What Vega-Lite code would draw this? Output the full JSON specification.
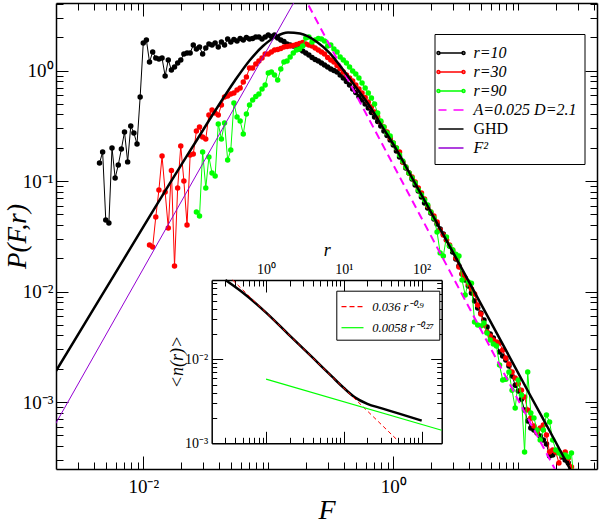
{
  "$schema": "https://vega.github.io/schema/vega-lite/v6.json",
  "width": 541,
  "height": 466,
  "autosize": {"type": "none"},
  "padding": {"left": 56, "top": 3, "right": 3, "bottom": 57},
  "background": "white",
  "config": {
    "font": "Liberation Serif",
    "view": {"stroke": null},
    "axis": {
      "grid": false,
      "domainColor": "black",
      "domainWidth": 1.5,
      "tickColor": "black",
      "tickWidth": 1,
      "labelColor": "black",
      "titleColor": "black",
      "labelFont": "Liberation Serif",
      "titleFont": "Liberation Serif",
      "titleFontWeight": "normal",
      "labelFlush": false,
      "labelOverlap": false
    },
    "legend": {
      "labelFont": "Liberation Serif",
      "labelColor": "black",
      "strokeColor": "black",
      "fillColor": "white",
      "symbolOpacity": 1
    }
  },
  "datasets": {
    "main": [
      {"s": "r=10", "F": 0.004467, "P": 0.1455},
      {"s": "r=10", "F": 0.004732, "P": 0.183},
      {"s": "r=10", "F": 0.005012, "P": 0.0444},
      {"s": "r=10", "F": 0.005309, "P": 0.0417},
      {"s": "r=10", "F": 0.005623, "P": 0.199},
      {"s": "r=10", "F": 0.005957, "P": 0.1064},
      {"s": "r=10", "F": 0.00631, "P": 0.1396},
      {"s": "r=10", "F": 0.006683, "P": 0.195},
      {"s": "r=10", "F": 0.007079, "P": 0.278},
      {"s": "r=10", "F": 0.007499, "P": 0.149},
      {"s": "r=10", "F": 0.007943, "P": 0.3145},
      {"s": "r=10", "F": 0.008414, "P": 0.272},
      {"s": "r=10", "F": 0.008913, "P": 0.216},
      {"s": "r=10", "F": 0.009441, "P": 0.576},
      {"s": "r=10", "F": 0.01, "P": 1.774},
      {"s": "r=10", "F": 0.01059, "P": 1.888},
      {"s": "r=10", "F": 0.01122, "P": 1.194},
      {"s": "r=10", "F": 0.01189, "P": 1.47},
      {"s": "r=10", "F": 0.01259, "P": 1.297},
      {"s": "r=10", "F": 0.01334, "P": 1.271},
      {"s": "r=10", "F": 0.01413, "P": 1.297},
      {"s": "r=10", "F": 0.01496, "P": 0.892},
      {"s": "r=10", "F": 0.01585, "P": 1.245},
      {"s": "r=10", "F": 0.01679, "P": 1.01},
      {"s": "r=10", "F": 0.01778, "P": 1.076},
      {"s": "r=10", "F": 0.01884, "P": 1.169},
      {"s": "r=10", "F": 0.01995, "P": 1.245},
      {"s": "r=10", "F": 0.02113, "P": 1.41},
      {"s": "r=10", "F": 0.02239, "P": 1.44},
      {"s": "r=10", "F": 0.02371, "P": 1.44},
      {"s": "r=10", "F": 0.02512, "P": 1.701},
      {"s": "r=10", "F": 0.02661, "P": 1.565},
      {"s": "r=10", "F": 0.02818, "P": 1.632},
      {"s": "r=10", "F": 0.02985, "P": 1.41},
      {"s": "r=10", "F": 0.03162, "P": 1.598},
      {"s": "r=10", "F": 0.0335, "P": 1.737},
      {"s": "r=10", "F": 0.03548, "P": 1.701},
      {"s": "r=10", "F": 0.03758, "P": 1.774},
      {"s": "r=10", "F": 0.03981, "P": 1.632},
      {"s": "r=10", "F": 0.04217, "P": 1.811},
      {"s": "r=10", "F": 0.04467, "P": 1.701},
      {"s": "r=10", "F": 0.04732, "P": 1.928},
      {"s": "r=10", "F": 0.05012, "P": 1.811},
      {"s": "r=10", "F": 0.05309, "P": 1.908},
      {"s": "r=10", "F": 0.05623, "P": 1.849},
      {"s": "r=10", "F": 0.05957, "P": 1.948},
      {"s": "r=10", "F": 0.0631, "P": 1.888},
      {"s": "r=10", "F": 0.06683, "P": 1.989},
      {"s": "r=10", "F": 0.07079, "P": 1.928},
      {"s": "r=10", "F": 0.07499, "P": 1.948},
      {"s": "r=10", "F": 0.07943, "P": 2.01},
      {"s": "r=10", "F": 0.08414, "P": 2.01},
      {"s": "r=10", "F": 0.08913, "P": 1.928},
      {"s": "r=10", "F": 0.09441, "P": 2.01},
      {"s": "r=10", "F": 0.1, "P": 2.096},
      {"s": "r=10", "F": 0.1059, "P": 2.031},
      {"s": "r=10", "F": 0.1122, "P": 2.096},
      {"s": "r=10", "F": 0.1189, "P": 1.968},
      {"s": "r=10", "F": 0.1259, "P": 1.888},
      {"s": "r=10", "F": 0.1334, "P": 1.83},
      {"s": "r=10", "F": 0.1413, "P": 1.737},
      {"s": "r=10", "F": 0.1496, "P": 1.701},
      {"s": "r=10", "F": 0.1585, "P": 1.666},
      {"s": "r=10", "F": 0.1679, "P": 1.632},
      {"s": "r=10", "F": 0.1778, "P": 1.565},
      {"s": "r=10", "F": 0.1884, "P": 1.501},
      {"s": "r=10", "F": 0.1995, "P": 1.44},
      {"s": "r=10", "F": 0.2113, "P": 1.381},
      {"s": "r=10", "F": 0.2239, "P": 1.311},
      {"s": "r=10", "F": 0.2371, "P": 1.257},
      {"s": "r=10", "F": 0.2512, "P": 1.219},
      {"s": "r=10", "F": 0.2661, "P": 1.169},
      {"s": "r=10", "F": 0.2818, "P": 1.121},
      {"s": "r=10", "F": 0.2985, "P": 1.076},
      {"s": "r=10", "F": 0.3162, "P": 1.032},
      {"s": "r=10", "F": 0.335, "P": 1.0},
      {"s": "r=10", "F": 0.3548, "P": 0.969},
      {"s": "r=10", "F": 0.3758, "P": 0.911},
      {"s": "r=10", "F": 0.3981, "P": 0.855},
      {"s": "r=10", "F": 0.4217, "P": 0.795},
      {"s": "r=10", "F": 0.4467, "P": 0.739},
      {"s": "r=10", "F": 0.4732, "P": 0.68},
      {"s": "r=10", "F": 0.5012, "P": 0.632},
      {"s": "r=10", "F": 0.5309, "P": 0.5816},
      {"s": "r=10", "F": 0.5623, "P": 0.541},
      {"s": "r=10", "F": 0.5957, "P": 0.4975},
      {"s": "r=10", "F": 0.631, "P": 0.4576},
      {"s": "r=10", "F": 0.6683, "P": 0.4168},
      {"s": "r=10", "F": 0.7079, "P": 0.3796},
      {"s": "r=10", "F": 0.7499, "P": 0.3455},
      {"s": "r=10", "F": 0.7943, "P": 0.3145},
      {"s": "r=10", "F": 0.8414, "P": 0.2835},
      {"s": "r=10", "F": 0.8913, "P": 0.258},
      {"s": "r=10", "F": 0.9441, "P": 0.235},
      {"s": "r=10", "F": 1.0, "P": 0.2117},
      {"s": "r=10", "F": 1.059, "P": 0.1868},
      {"s": "r=10", "F": 1.122, "P": 0.1649},
      {"s": "r=10", "F": 1.189, "P": 0.1486},
      {"s": "r=10", "F": 1.259, "P": 0.1311},
      {"s": "r=10", "F": 1.334, "P": 0.1181},
      {"s": "r=10", "F": 1.413, "P": 0.1042},
      {"s": "r=10", "F": 1.496, "P": 0.092},
      {"s": "r=10", "F": 1.585, "P": 0.0812},
      {"s": "r=10", "F": 1.679, "P": 0.0716},
      {"s": "r=10", "F": 1.778, "P": 0.0632},
      {"s": "r=10", "F": 1.884, "P": 0.057},
      {"s": "r=10", "F": 1.995, "P": 0.0513},
      {"s": "r=10", "F": 2.113, "P": 0.0453},
      {"s": "r=10", "F": 2.239, "P": 0.0408},
      {"s": "r=10", "F": 2.371, "P": 0.0368},
      {"s": "r=10", "F": 2.512, "P": 0.0331},
      {"s": "r=10", "F": 2.661, "P": 0.0292},
      {"s": "r=10", "F": 2.818, "P": 0.0258},
      {"s": "r=10", "F": 2.985, "P": 0.0228},
      {"s": "r=10", "F": 3.162, "P": 0.0197},
      {"s": "r=10", "F": 3.35, "P": 0.017},
      {"s": "r=10", "F": 3.548, "P": 0.0144},
      {"s": "r=10", "F": 3.758, "P": 0.0127},
      {"s": "r=10", "F": 3.981, "P": 0.0112},
      {"s": "r=10", "F": 4.217, "P": 0.0097},
      {"s": "r=10", "F": 4.467, "P": 0.0082},
      {"s": "r=10", "F": 4.732, "P": 0.00709},
      {"s": "r=10", "F": 5.012, "P": 0.00639},
      {"s": "r=10", "F": 5.309, "P": 0.00552},
      {"s": "r=10", "F": 5.623, "P": 0.00477},
      {"s": "r=10", "F": 5.957, "P": 0.00412},
      {"s": "r=10", "F": 6.31, "P": 0.0038},
      {"s": "r=10", "F": 6.683, "P": 0.00335},
      {"s": "r=10", "F": 7.079, "P": 0.00283},
      {"s": "r=10", "F": 7.499, "P": 0.00261},
      {"s": "r=10", "F": 7.943, "P": 0.0024},
      {"s": "r=10", "F": 8.414, "P": 0.00212},
      {"s": "r=10", "F": 8.913, "P": 0.00172},
      {"s": "r=10", "F": 9.441, "P": 0.00142},
      {"s": "r=10", "F": 10.0, "P": 0.00126},
      {"s": "r=10", "F": 10.59, "P": 0.00106},
      {"s": "r=10", "F": 11.22, "P": 0.000847},
      {"s": "r=10", "F": 11.89, "P": 0.000673},
      {"s": "r=10", "F": 12.59, "P": 0.000582},
      {"s": "r=10", "F": 13.34, "P": 0.000558},
      {"s": "r=10", "F": 14.13, "P": 0.000524},
      {"s": "r=10", "F": 14.96, "P": 0.000492},
      {"s": "r=10", "F": 15.85, "P": 0.000453},
      {"s": "r=10", "F": 16.79, "P": 0.000417},
      {"s": "r=10", "F": 17.78, "P": 0.000325},
      {"s": "r=10", "F": 18.84, "P": 0.000332},
      {"s": "r=10", "F": 19.95, "P": 0.000353},
      {"s": "r=10", "F": 21.13, "P": 0.000353},
      {"s": "r=10", "F": 22.39, "P": 0.000318},
      {"s": "r=10", "F": 23.71, "P": 0.000299},
      {"s": "r=10", "F": 25.12, "P": 0.000281},
      {"s": "r=10", "F": 26.61, "P": 0.00016},
      {"s": "r=30", "F": 0.01122, "P": 0.02635},
      {"s": "r=30", "F": 0.01189, "P": 0.02527},
      {"s": "r=30", "F": 0.01259, "P": 0.04724},
      {"s": "r=30", "F": 0.01334, "P": 0.0829},
      {"s": "r=30", "F": 0.01413, "P": 0.1684},
      {"s": "r=30", "F": 0.01496, "P": 0.0795},
      {"s": "r=30", "F": 0.01585, "P": 0.03755},
      {"s": "r=30", "F": 0.01679, "P": 0.1245},
      {"s": "r=30", "F": 0.01778, "P": 0.017},
      {"s": "r=30", "F": 0.01884, "P": 0.0865},
      {"s": "r=30", "F": 0.01995, "P": 0.2074},
      {"s": "r=30", "F": 0.02113, "P": 0.1},
      {"s": "r=30", "F": 0.02239, "P": 0.04},
      {"s": "r=30", "F": 0.02371, "P": 0.172},
      {"s": "r=30", "F": 0.02512, "P": 0.1755},
      {"s": "r=30", "F": 0.02661, "P": 0.2835},
      {"s": "r=30", "F": 0.02818, "P": 0.308},
      {"s": "r=30", "F": 0.02985, "P": 0.25},
      {"s": "r=30", "F": 0.03162, "P": 0.24},
      {"s": "r=30", "F": 0.0335, "P": 0.3957},
      {"s": "r=30", "F": 0.03548, "P": 0.439},
      {"s": "r=30", "F": 0.03758, "P": 0.412},
      {"s": "r=30", "F": 0.03981, "P": 0.3957},
      {"s": "r=30", "F": 0.04217, "P": 0.487},
      {"s": "r=30", "F": 0.04467, "P": 0.576},
      {"s": "r=30", "F": 0.04732, "P": 0.588},
      {"s": "r=30", "F": 0.05012, "P": 0.613},
      {"s": "r=30", "F": 0.05309, "P": 0.626},
      {"s": "r=30", "F": 0.05623, "P": 0.666},
      {"s": "r=30", "F": 0.05957, "P": 0.694},
      {"s": "r=30", "F": 0.0631, "P": 0.787},
      {"s": "r=30", "F": 0.06683, "P": 0.8735},
      {"s": "r=30", "F": 0.07079, "P": 1.053},
      {"s": "r=30", "F": 0.07499, "P": 1.053},
      {"s": "r=30", "F": 0.07943, "P": 1.145},
      {"s": "r=30", "F": 0.08414, "P": 1.219},
      {"s": "r=30", "F": 0.08913, "P": 1.297},
      {"s": "r=30", "F": 0.09441, "P": 1.41},
      {"s": "r=30", "F": 0.1, "P": 1.41},
      {"s": "r=30", "F": 0.1059, "P": 1.47},
      {"s": "r=30", "F": 0.1122, "P": 1.533},
      {"s": "r=30", "F": 0.1189, "P": 1.549},
      {"s": "r=30", "F": 0.1259, "P": 1.582},
      {"s": "r=30", "F": 0.1334, "P": 1.632},
      {"s": "r=30", "F": 0.1413, "P": 1.649},
      {"s": "r=30", "F": 0.1496, "P": 1.666},
      {"s": "r=30", "F": 0.1585, "P": 1.684},
      {"s": "r=30", "F": 0.1679, "P": 1.719},
      {"s": "r=30", "F": 0.1778, "P": 1.755},
      {"s": "r=30", "F": 0.1884, "P": 1.792},
      {"s": "r=30", "F": 0.1995, "P": 1.737},
      {"s": "r=30", "F": 0.2113, "P": 1.701},
      {"s": "r=30", "F": 0.2239, "P": 1.666},
      {"s": "r=30", "F": 0.2371, "P": 1.598},
      {"s": "r=30", "F": 0.2512, "P": 1.533},
      {"s": "r=30", "F": 0.2661, "P": 1.47},
      {"s": "r=30", "F": 0.2818, "P": 1.41},
      {"s": "r=30", "F": 0.2985, "P": 1.311},
      {"s": "r=30", "F": 0.3162, "P": 1.245},
      {"s": "r=30", "F": 0.335, "P": 1.194},
      {"s": "r=30", "F": 0.3548, "P": 1.11},
      {"s": "r=30", "F": 0.3758, "P": 1.042},
      {"s": "r=30", "F": 0.3981, "P": 0.969},
      {"s": "r=30", "F": 0.4217, "P": 0.911},
      {"s": "r=30", "F": 0.4467, "P": 0.855},
      {"s": "r=30", "F": 0.4732, "P": 0.803},
      {"s": "r=30", "F": 0.5012, "P": 0.739},
      {"s": "r=30", "F": 0.5309, "P": 0.68},
      {"s": "r=30", "F": 0.5623, "P": 0.626},
      {"s": "r=30", "F": 0.5957, "P": 0.57},
      {"s": "r=30", "F": 0.631, "P": 0.5187},
      {"s": "r=30", "F": 0.6683, "P": 0.4673},
      {"s": "r=30", "F": 0.7079, "P": 0.421},
      {"s": "r=30", "F": 0.7499, "P": 0.3796},
      {"s": "r=30", "F": 0.7943, "P": 0.342},
      {"s": "r=30", "F": 0.8414, "P": 0.308},
      {"s": "r=30", "F": 0.8913, "P": 0.2776},
      {"s": "r=30", "F": 0.9441, "P": 0.245},
      {"s": "r=30", "F": 1.0, "P": 0.2208},
      {"s": "r=30", "F": 1.059, "P": 0.1989},
      {"s": "r=30", "F": 1.122, "P": 0.183},
      {"s": "r=30", "F": 1.189, "P": 0.1486},
      {"s": "r=30", "F": 1.259, "P": 0.1338},
      {"s": "r=30", "F": 1.334, "P": 0.1181},
      {"s": "r=30", "F": 1.413, "P": 0.1087},
      {"s": "r=30", "F": 1.496, "P": 0.0979},
      {"s": "r=30", "F": 1.585, "P": 0.0865},
      {"s": "r=30", "F": 1.679, "P": 0.0779},
      {"s": "r=30", "F": 1.778, "P": 0.0687},
      {"s": "r=30", "F": 1.884, "P": 0.0594},
      {"s": "r=30", "F": 1.995, "P": 0.0524},
      {"s": "r=30", "F": 2.113, "P": 0.0482},
      {"s": "r=30", "F": 2.239, "P": 0.0426},
      {"s": "r=30", "F": 2.371, "P": 0.036},
      {"s": "r=30", "F": 2.512, "P": 0.0325},
      {"s": "r=30", "F": 2.661, "P": 0.0292},
      {"s": "r=30", "F": 2.818, "P": 0.02635},
      {"s": "r=30", "F": 2.985, "P": 0.0237},
      {"s": "r=30", "F": 3.162, "P": 0.0201},
      {"s": "r=30", "F": 3.35, "P": 0.01666},
      {"s": "r=30", "F": 3.548, "P": 0.0144},
      {"s": "r=30", "F": 3.758, "P": 0.01325},
      {"s": "r=30", "F": 3.981, "P": 0.0117},
      {"s": "r=30", "F": 4.217, "P": 0.01054},
      {"s": "r=30", "F": 4.467, "P": 0.0095},
      {"s": "r=30", "F": 4.732, "P": 0.00755},
      {"s": "r=30", "F": 5.012, "P": 0.00626},
      {"s": "r=30", "F": 5.309, "P": 0.00498},
      {"s": "r=30", "F": 5.623, "P": 0.0043},
      {"s": "r=30", "F": 5.957, "P": 0.00396},
      {"s": "r=30", "F": 6.31, "P": 0.00364},
      {"s": "r=30", "F": 6.683, "P": 0.00349},
      {"s": "r=30", "F": 7.079, "P": 0.00342},
      {"s": "r=30", "F": 7.499, "P": 0.00296},
      {"s": "r=30", "F": 7.943, "P": 0.0025},
      {"s": "r=30", "F": 8.414, "P": 0.00221},
      {"s": "r=30", "F": 8.913, "P": 0.00187},
      {"s": "r=30", "F": 9.441, "P": 0.00165},
      {"s": "r=30", "F": 10.0, "P": 0.00146},
      {"s": "r=30", "F": 10.59, "P": 0.00128},
      {"s": "r=30", "F": 11.22, "P": 0.00111},
      {"s": "r=30", "F": 11.89, "P": 0.000847},
      {"s": "r=30", "F": 12.59, "P": 0.000717},
      {"s": "r=30", "F": 13.34, "P": 0.000606},
      {"s": "r=30", "F": 14.13, "P": 0.000535},
      {"s": "r=30", "F": 14.96, "P": 0.000582},
      {"s": "r=30", "F": 15.85, "P": 0.000619},
      {"s": "r=30", "F": 16.79, "P": 0.000503},
      {"s": "r=30", "F": 17.78, "P": 0.000353},
      {"s": "r=30", "F": 18.84, "P": 0.000368},
      {"s": "r=30", "F": 19.95, "P": 0.000353},
      {"s": "r=30", "F": 21.13, "P": 0.000281},
      {"s": "r=30", "F": 22.39, "P": 0.000332},
      {"s": "r=30", "F": 23.71, "P": 0.000353},
      {"s": "r=30", "F": 25.12, "P": 0.000311},
      {"s": "r=30", "F": 26.61, "P": 0.000258},
      {"s": "r=30", "F": 28.18, "P": 0.00016},
      {"s": "r=90", "F": 0.02661, "P": 0.0524},
      {"s": "r=90", "F": 0.02818, "P": 0.0482},
      {"s": "r=90", "F": 0.02985, "P": 0.183},
      {"s": "r=90", "F": 0.03162, "P": 0.0865},
      {"s": "r=90", "F": 0.0335, "P": 0.1649},
      {"s": "r=90", "F": 0.03548, "P": 0.1181},
      {"s": "r=90", "F": 0.03758, "P": 0.111},
      {"s": "r=90", "F": 0.03981, "P": 0.328},
      {"s": "r=90", "F": 0.04217, "P": 0.24},
      {"s": "r=90", "F": 0.04467, "P": 0.335},
      {"s": "r=90", "F": 0.04732, "P": 0.1549},
      {"s": "r=90", "F": 0.05012, "P": 0.1908},
      {"s": "r=90", "F": 0.05309, "P": 0.508},
      {"s": "r=90", "F": 0.05623, "P": 0.3796},
      {"s": "r=90", "F": 0.05957, "P": 0.349},
      {"s": "r=90", "F": 0.0631, "P": 0.266},
      {"s": "r=90", "F": 0.06683, "P": 0.404},
      {"s": "r=90", "F": 0.07079, "P": 0.487},
      {"s": "r=90", "F": 0.07499, "P": 0.541},
      {"s": "r=90", "F": 0.07943, "P": 0.5816},
      {"s": "r=90", "F": 0.08414, "P": 0.613},
      {"s": "r=90", "F": 0.08913, "P": 0.68},
      {"s": "r=90", "F": 0.09441, "P": 0.739},
      {"s": "r=90", "F": 0.1, "P": 0.949},
      {"s": "r=90", "F": 0.1059, "P": 0.969},
      {"s": "r=90", "F": 0.1122, "P": 0.911},
      {"s": "r=90", "F": 0.1189, "P": 0.82},
      {"s": "r=90", "F": 0.1259, "P": 1.032},
      {"s": "r=90", "F": 0.1334, "P": 1.194},
      {"s": "r=90", "F": 0.1413, "P": 1.219},
      {"s": "r=90", "F": 0.1496, "P": 1.325},
      {"s": "r=90", "F": 0.1585, "P": 1.44},
      {"s": "r=90", "F": 0.1679, "P": 1.533},
      {"s": "r=90", "F": 0.1778, "P": 1.565},
      {"s": "r=90", "F": 0.1884, "P": 1.666},
      {"s": "r=90", "F": 0.1995, "P": 1.968},
      {"s": "r=90", "F": 0.2113, "P": 2.01},
      {"s": "r=90", "F": 0.2239, "P": 1.811},
      {"s": "r=90", "F": 0.2371, "P": 1.888},
      {"s": "r=90", "F": 0.2512, "P": 1.948},
      {"s": "r=90", "F": 0.2661, "P": 1.928},
      {"s": "r=90", "F": 0.2818, "P": 1.849},
      {"s": "r=90", "F": 0.2985, "P": 1.666},
      {"s": "r=90", "F": 0.3162, "P": 1.701},
      {"s": "r=90", "F": 0.335, "P": 1.565},
      {"s": "r=90", "F": 0.3548, "P": 1.47},
      {"s": "r=90", "F": 0.3758, "P": 1.325},
      {"s": "r=90", "F": 0.3981, "P": 1.245},
      {"s": "r=90", "F": 0.4217, "P": 1.169},
      {"s": "r=90", "F": 0.4467, "P": 1.076},
      {"s": "r=90", "F": 0.4732, "P": 0.99},
      {"s": "r=90", "F": 0.5012, "P": 0.93},
      {"s": "r=90", "F": 0.5309, "P": 0.855},
      {"s": "r=90", "F": 0.5623, "P": 0.771},
      {"s": "r=90", "F": 0.5957, "P": 0.694},
      {"s": "r=90", "F": 0.631, "P": 0.626},
      {"s": "r=90", "F": 0.6683, "P": 0.5638},
      {"s": "r=90", "F": 0.7079, "P": 0.4975},
      {"s": "r=90", "F": 0.7499, "P": 0.412},
      {"s": "r=90", "F": 0.7943, "P": 0.349},
      {"s": "r=90", "F": 0.8414, "P": 0.308},
      {"s": "r=90", "F": 0.8913, "P": 0.272},
      {"s": "r=90", "F": 0.9441, "P": 0.2554},
      {"s": "r=90", "F": 1.0, "P": 0.2208},
      {"s": "r=90", "F": 1.059, "P": 0.1989},
      {"s": "r=90", "F": 1.122, "P": 0.172},
      {"s": "r=90", "F": 1.189, "P": 0.1517},
      {"s": "r=90", "F": 1.259, "P": 0.1338},
      {"s": "r=90", "F": 1.334, "P": 0.1181},
      {"s": "r=90", "F": 1.413, "P": 0.1064},
      {"s": "r=90", "F": 1.496, "P": 0.0959},
      {"s": "r=90", "F": 1.585, "P": 0.0829},
      {"s": "r=90", "F": 1.679, "P": 0.0747},
      {"s": "r=90", "F": 1.778, "P": 0.0673},
      {"s": "r=90", "F": 1.884, "P": 0.0606},
      {"s": "r=90", "F": 1.995, "P": 0.0524},
      {"s": "r=90", "F": 2.113, "P": 0.0463},
      {"s": "r=90", "F": 2.239, "P": 0.0346},
      {"s": "r=90", "F": 2.371, "P": 0.0223},
      {"s": "r=90", "F": 2.512, "P": 0.021},
      {"s": "r=90", "F": 2.661, "P": 0.0311},
      {"s": "r=90", "F": 2.818, "P": 0.0258},
      {"s": "r=90", "F": 2.985, "P": 0.0237},
      {"s": "r=90", "F": 3.162, "P": 0.0218},
      {"s": "r=90", "F": 3.35, "P": 0.021},
      {"s": "r=90", "F": 3.548, "P": 0.0127},
      {"s": "r=90", "F": 3.758, "P": 0.0093},
      {"s": "r=90", "F": 3.981, "P": 0.0122},
      {"s": "r=90", "F": 4.217, "P": 0.0119},
      {"s": "r=90", "F": 4.467, "P": 0.0053},
      {"s": "r=90", "F": 4.732, "P": 0.00498},
      {"s": "r=90", "F": 5.012, "P": 0.00487},
      {"s": "r=90", "F": 5.309, "P": 0.00519},
      {"s": "r=90", "F": 5.623, "P": 0.00421},
      {"s": "r=90", "F": 5.957, "P": 0.00364},
      {"s": "r=90", "F": 6.31, "P": 0.00335},
      {"s": "r=90", "F": 6.683, "P": 0.00321},
      {"s": "r=90", "F": 7.079, "P": 0.00216},
      {"s": "r=90", "F": 7.499, "P": 0.00158},
      {"s": "r=90", "F": 7.943, "P": 0.00161},
      {"s": "r=90", "F": 8.414, "P": 0.00187},
      {"s": "r=90", "F": 8.913, "P": 0.00128},
      {"s": "r=90", "F": 9.441, "P": 0.000882},
      {"s": "r=90", "F": 10.0, "P": 0.00158},
      {"s": "r=90", "F": 10.59, "P": 0.001157},
      {"s": "r=90", "F": 11.22, "P": 0.000353},
      {"s": "r=90", "F": 11.89, "P": 0.00187},
      {"s": "r=90", "F": 12.59, "P": 0.000795},
      {"s": "r=90", "F": 13.34, "P": 0.000717},
      {"s": "r=90", "F": 14.13, "P": 0.000558},
      {"s": "r=90", "F": 14.96, "P": 0.000453},
      {"s": "r=90", "F": 15.85, "P": 0.000558},
      {"s": "r=90", "F": 16.79, "P": 0.000763},
      {"s": "r=90", "F": 17.78, "P": 0.000659},
      {"s": "r=90", "F": 18.84, "P": 0.000453},
      {"s": "r=90", "F": 19.95, "P": 0.000368},
      {"s": "r=90", "F": 21.13, "P": 0.000346},
      {"s": "r=90", "F": 22.39, "P": 0.000332},
      {"s": "r=90", "F": 23.71, "P": 0.000332},
      {"s": "r=90", "F": 25.12, "P": 0.000318},
      {"s": "r=90", "F": 26.61, "P": 0.000346},
      {"s": "r=90", "F": 28.18, "P": 0.00016},
      {"s": "A=0.025 D=2.1", "F": 0.15, "P": 7.94},
      {"s": "A=0.025 D=2.1", "F": 30, "P": 0.0001},
      {"s": "GHD", "F": 0.001793, "P": 0.001552},
      {"s": "GHD", "F": 0.002002, "P": 0.001908},
      {"s": "GHD", "F": 0.004504, "P": 0.008662},
      {"s": "GHD", "F": 0.00941, "P": 0.03425},
      {"s": "GHD", "F": 0.01635, "P": 0.0959},
      {"s": "GHD", "F": 0.02592, "P": 0.2208},
      {"s": "GHD", "F": 0.03747, "P": 0.43},
      {"s": "GHD", "F": 0.05414, "P": 0.812},
      {"s": "GHD", "F": 0.07139, "P": 1.245},
      {"s": "GHD", "F": 0.09071, "P": 1.666},
      {"s": "GHD", "F": 0.1152, "P": 2.031},
      {"s": "GHD", "F": 0.1438, "P": 2.208},
      {"s": "GHD", "F": 0.1793, "P": 2.162},
      {"s": "GHD", "F": 0.2438, "P": 1.823},
      {"s": "GHD", "F": 0.3116, "P": 1.431},
      {"s": "GHD", "F": 0.3981, "P": 1.01},
      {"s": "GHD", "F": 0.5095, "P": 0.69},
      {"s": "GHD", "F": 0.651, "P": 0.4703},
      {"s": "GHD", "F": 0.8318, "P": 0.2998},
      {"s": "GHD", "F": 1.065, "P": 0.1908},
      {"s": "GHD", "F": 1.445, "P": 0.1021},
      {"s": "GHD", "F": 2.364, "P": 0.03716},
      {"s": "GHD", "F": 3.866, "P": 0.01338},
      {"s": "GHD", "F": 6.719, "P": 0.00421},
      {"s": "GHD", "F": 12.41, "P": 0.001157},
      {"s": "GHD", "F": 20.29, "P": 0.000417},
      {"s": "GHD", "F": 25.92, "P": 0.0002476},
      {"s": "GHD", "F": 31.17, "P": 0.0001667},
      {"s": "F²", "F": 0.0019, "P": 0.00058},
      {"s": "F²", "F": 0.2, "P": 6.43}
    ],
    "inset": [
      {"s": "black", "r": 0.3, "n": 0.088},
      {"s": "black", "r": 0.5, "n": 0.0625},
      {"s": "black", "r": 1, "n": 0.036},
      {"s": "black", "r": 2, "n": 0.0193},
      {"s": "black", "r": 4, "n": 0.0104},
      {"s": "black", "r": 7, "n": 0.00625},
      {"s": "black", "r": 10, "n": 0.00455},
      {"s": "black", "r": 14, "n": 0.0035},
      {"s": "black", "r": 20, "n": 0.00295},
      {"s": "black", "r": 30, "n": 0.00262},
      {"s": "black", "r": 50, "n": 0.00227},
      {"s": "black", "r": 100, "n": 0.00186},
      {"s": "0.036 r⁻⁰·⁹", "r": 0.371, "n": 0.088},
      {"s": "0.036 r⁻⁰·⁹", "r": 50, "n": 0.001065},
      {"s": "0.0058 r⁻⁰·²⁷", "r": 1, "n": 0.0058},
      {"s": "0.0058 r⁻⁰·²⁷", "r": 180.7, "n": 0.00143}
    ]
  },
  "layer": [
    {
      "layer": [
        {
          "data": {"name": "main"},
          "transform": [{"filter": "datum.s == 'r=10'"}],
          "mark": {"type": "line", "color": "black", "strokeWidth": 1, "clip": true, "point": {"filled": true, "size": 30, "color": "black"}},
          "encoding": {
            "x": {"field": "F", "type": "quantitative", "scale": {"type": "log", "domain": [0.002004, 42.6], "nice": false},
              "axis": {"orient": "bottom", "values": [0.003,0.004,0.005,0.006,0.007,0.008,0.009,0.01,0.02,0.03,0.04,0.05,0.06,0.07,0.08,0.09,0.1,0.2,0.3,0.4,0.5,0.6,0.7,0.8,0.9,1,2,3,4,5,6,7,8,9,10,20,30,40],
                "labelExpr": "datum.value == 0.01 ? '10⁻²' : datum.value == 1 ? '10⁰' : ''",
                "tickSize": {"condition": {"test": "datum.value == 0.01 || datum.value == 1", "value": -13}, "value": -7},
                "labelPadding": 21, "labelFontSize": 19,
                "title": "F", "titleFontSize": 28, "titleFontStyle": "italic", "titleX": 270.5, "titleY": 41, "titleBaseline": "middle", "titleAlign": "center"}},
            "y": {"field": "P", "type": "quantitative", "scale": {"type": "log", "domain": [0.0002477, 4.083], "nice": false},
              "axis": {"orient": "left", "values": [0.0003,0.0004,0.0005,0.0006,0.0007,0.0008,0.0009,0.001,0.002,0.003,0.004,0.005,0.006,0.007,0.008,0.009,0.01,0.02,0.03,0.04,0.05,0.06,0.07,0.08,0.09,0.1,0.2,0.3,0.4,0.5,0.6,0.7,0.8,0.9,1,2,3,4],
                "labelExpr": "datum.value == 1 ? '10⁰' : datum.value == 0.1 ? '10⁻¹' : datum.value == 0.01 ? '10⁻²' : datum.value == 0.001 ? '10⁻³' : ''",
                "tickSize": {"condition": {"test": "datum.value == 1 || datum.value == 0.1 || datum.value == 0.01 || datum.value == 0.001", "value": -12}, "value": -7},
                "labelPadding": 15, "labelFontSize": 19,
                "title": "P(F,r)", "titleFontSize": 27, "titleFontStyle": "italic", "titleX": -39, "titleY": 233, "titleBaseline": "middle", "titleAlign": "center", "titleAngle": -90}}
          }
        },
        {
          "data": {"name": "main"},
          "transform": [{"filter": "datum.s == 'r=30'"}],
          "mark": {"type": "line", "color": "#ff0000", "strokeWidth": 1, "clip": true, "point": {"filled": true, "size": 30, "color": "#ff0000"}},
          "encoding": {
            "x": {"field": "F", "type": "quantitative", "scale": {"type": "log", "domain": [0.002004, 42.6], "nice": false},
              "axis": {"orient": "top", "values": [0.003,0.004,0.005,0.006,0.007,0.008,0.009,0.01,0.02,0.03,0.04,0.05,0.06,0.07,0.08,0.09,0.1,0.2,0.3,0.4,0.5,0.6,0.7,0.8,0.9,1,2,3,4,5,6,7,8,9,10,20,30,40],
                "labels": false, "title": null,
                "tickSize": {"condition": {"test": "datum.value == 0.01 || datum.value == 1", "value": -13}, "value": -7}}},
            "y": {"field": "P", "type": "quantitative", "scale": {"type": "log", "domain": [0.0002477, 4.083], "nice": false},
              "axis": {"orient": "right", "values": [0.0003,0.0004,0.0005,0.0006,0.0007,0.0008,0.0009,0.001,0.002,0.003,0.004,0.005,0.006,0.007,0.008,0.009,0.01,0.02,0.03,0.04,0.05,0.06,0.07,0.08,0.09,0.1,0.2,0.3,0.4,0.5,0.6,0.7,0.8,0.9,1,2,3,4],
                "labels": false, "title": null,
                "tickSize": {"condition": {"test": "datum.value == 1 || datum.value == 0.1 || datum.value == 0.01 || datum.value == 0.001", "value": -12}, "value": -7}}}
          }
        },
        {
          "data": {"name": "main"},
          "transform": [{"filter": "datum.s == 'r=90'"}],
          "mark": {"type": "line", "color": "#00ff00", "strokeWidth": 1, "clip": true, "point": {"filled": true, "size": 30, "color": "#00ff00"}},
          "encoding": {
            "x": {"field": "F", "type": "quantitative", "scale": {"type": "log", "domain": [0.002004, 42.6], "nice": false}, "axis": null},
            "y": {"field": "P", "type": "quantitative", "scale": {"type": "log", "domain": [0.0002477, 4.083], "nice": false}, "axis": null}
          }
        },
        {
          "data": {"name": "main"},
          "transform": [{"filter": "datum.s == 'A=0.025 D=2.1'"}],
          "mark": {"type": "line", "color": "#ff00ff", "strokeWidth": 2, "strokeDash": [8, 5], "clip": true},
          "encoding": {
            "x": {"field": "F", "type": "quantitative", "scale": {"type": "log", "domain": [0.002004, 42.6], "nice": false}, "axis": null},
            "y": {"field": "P", "type": "quantitative", "scale": {"type": "log", "domain": [0.0002477, 4.083], "nice": false}, "axis": null}
          }
        },
        {
          "data": {"name": "main"},
          "transform": [{"filter": "datum.s == 'GHD'"}],
          "mark": {"type": "line", "color": "black", "strokeWidth": 2.5, "interpolate": "monotone", "clip": true},
          "encoding": {
            "x": {"field": "F", "type": "quantitative", "scale": {"type": "log", "domain": [0.002004, 42.6], "nice": false}, "axis": null},
            "y": {"field": "P", "type": "quantitative", "scale": {"type": "log", "domain": [0.0002477, 4.083], "nice": false}, "axis": null}
          }
        },
        {
          "data": {"name": "main"},
          "transform": [{"filter": "datum.s == 'F²'"}],
          "mark": {"type": "line", "color": "#9400d3", "strokeWidth": 1, "clip": true},
          "encoding": {
            "x": {"field": "F", "type": "quantitative", "scale": {"type": "log", "domain": [0.002004, 42.6], "nice": false}, "axis": null},
            "y": {"field": "P", "type": "quantitative", "scale": {"type": "log", "domain": [0.0002477, 4.083], "nice": false}, "axis": null}
          }
        },
        {
          "data": {"name": "main"},
          "transform": [{"filter": "false"}],
          "mark": {"type": "point", "filled": false, "strokeWidth": 1.5, "opacity": 1},
          "encoding": {
            "x": {"field": "F", "type": "quantitative", "scale": {"type": "log", "domain": [0.002004, 42.6], "nice": false}, "axis": null},
            "y": {"field": "P", "type": "quantitative", "scale": {"type": "log", "domain": [0.0002477, 4.083], "nice": false}, "axis": null},
            "color": {"field": "s", "type": "nominal",
              "scale": {"domain": ["r=10", "r=30", "r=90", "A=0.025 D=2.1", "GHD", "F²"], "range": ["black", "#ff0000", "#00ff00", "#ff00ff", "black", "#9400d3"]},
              "legend": {"title": null, "orient": "none", "legendX": 378.5, "legendY": 31, "padding": 8, "labelFontSize": 16, "labelFontStyle": {"expr": "datum.label == 'GHD' ? 'normal' : 'italic'"}, "labelOffset": 9, "symbolSize": 400, "rowPadding": 0, "symbolStrokeWidth": 1.5, "symbolOpacity": 1, "strokeColor": "black", "fillColor": "white"}},
            "shape": {"field": "s", "type": "nominal",
              "scale": {"domain": ["r=10", "r=30", "r=90", "A=0.025 D=2.1", "GHD", "F²"],
                "range": [
                  "M-1.5,0L1,0M-1.65,0a0.15,0.15 0 1,0 0.3,0a0.15,0.15 0 1,0 -0.3,0M0.85,0a0.15,0.15 0 1,0 0.3,0a0.15,0.15 0 1,0 -0.3,0",
                  "M-1.5,0L1,0M-1.65,0a0.15,0.15 0 1,0 0.3,0a0.15,0.15 0 1,0 -0.3,0M0.85,0a0.15,0.15 0 1,0 0.3,0a0.15,0.15 0 1,0 -0.3,0",
                  "M-1.5,0L1,0M-1.65,0a0.15,0.15 0 1,0 0.3,0a0.15,0.15 0 1,0 -0.3,0M0.85,0a0.15,0.15 0 1,0 0.3,0a0.15,0.15 0 1,0 -0.3,0",
                  "M-1.5,0L-0.7,0M0,0L1,0",
                  "M-1.5,0L1,0",
                  "M-1.5,0L1,0"]},
              "legend": {"title": null, "orient": "none", "legendX": 378.5, "legendY": 31, "padding": 8, "labelFontSize": 16, "labelFontStyle": {"expr": "datum.label == 'GHD' ? 'normal' : 'italic'"}, "labelOffset": 9, "symbolSize": 400, "rowPadding": 0, "symbolStrokeWidth": 1.5, "symbolOpacity": 1, "strokeColor": "black", "fillColor": "white"}}
          }
        }
      ],
      "resolve": {"scale": {"x": "shared", "y": "shared"}, "axis": {"x": "independent", "y": "independent"}}
    },
    {
      "layer": [
        {
          "data": {"name": "inset"},
          "transform": [{"filter": "datum.s == 'black'"}],
          "mark": {"type": "line", "color": "black", "strokeWidth": 2.5, "interpolate": "monotone"},
          "encoding": {
            "x": {"field": "r", "type": "quantitative", "scale": {"type": "log", "domain": [0.2, 180.7], "range": [155.7, 385.7], "nice": false},
              "axis": {"orient": "top", "offset": -277, "values": [0.3,0.4,0.5,0.6,0.7,0.8,0.9,1,2,3,4,5,6,7,8,9,10,20,30,40,50,60,70,80,90,100],
                "labelExpr": "datum.value == 1 ? '10⁰' : datum.value == 10 ? '10¹' : datum.value == 100 ? '10²' : ''",
                "tickSize": {"condition": {"test": "datum.value == 1 || datum.value == 10 || datum.value == 100", "value": -12}, "value": -6},
                "labelPadding": 16, "labelFontSize": 14,
                "title": "r", "titleFontSize": 18, "titleFontStyle": "italic", "titleX": 270.7, "titleY": -30, "titleBaseline": "middle", "titleAlign": "center"}},
            "y": {"field": "n", "type": "quantitative", "scale": {"type": "log", "domain": [0.001, 0.088], "range": [440.3, 277], "nice": false},
              "axis": {"orient": "left", "offset": -155.7, "values": [0.001,0.002,0.003,0.004,0.005,0.006,0.007,0.008,0.009,0.01,0.02,0.03,0.04,0.05,0.06,0.07,0.08],
                "labelExpr": "datum.value == 0.01 ? '10⁻²' : datum.value == 0.001 ? '10⁻³' : ''",
                "tickSize": {"condition": {"test": "datum.value == 0.01 || datum.value == 0.001", "value": -11}, "value": -5},
                "labelPadding": 15, "labelFontSize": 14,
                "title": "<n(r)>", "titleFontSize": 18, "titleFontStyle": "italic", "titleX": -34.7, "titleY": 358.6, "titleBaseline": "middle", "titleAlign": "center", "titleAngle": -90}}
          }
        },
        {
          "data": {"name": "inset"},
          "transform": [{"filter": "datum.s == '0.036 r⁻⁰·⁹'"}],
          "mark": {"type": "line", "color": "#ff0000", "strokeWidth": 1, "strokeDash": [4, 3]},
          "encoding": {
            "x": {"field": "r", "type": "quantitative", "scale": {"type": "log", "domain": [0.2, 180.7], "range": [155.7, 385.7], "nice": false},
              "axis": {"orient": "bottom", "offset": -25.7, "values": [0.3,0.4,0.5,0.6,0.7,0.8,0.9,1,2,3,4,5,6,7,8,9,10,20,30,40,50,60,70,80,90,100],
                "labels": false, "title": null,
                "tickSize": {"condition": {"test": "datum.value == 1 || datum.value == 10 || datum.value == 100", "value": -12}, "value": -6}}},
            "y": {"field": "n", "type": "quantitative", "scale": {"type": "log", "domain": [0.001, 0.088], "range": [440.3, 277], "nice": false},
              "axis": {"orient": "right", "offset": -155.3, "values": [0.001,0.002,0.003,0.004,0.005,0.006,0.007,0.008,0.009,0.01,0.02,0.03,0.04,0.05,0.06,0.07,0.08],
                "labels": false, "title": null,
                "tickSize": {"condition": {"test": "datum.value == 0.01 || datum.value == 0.001", "value": -11}, "value": -5}}}
          }
        },
        {
          "data": {"name": "inset"},
          "transform": [{"filter": "datum.s == '0.0058 r⁻⁰·²⁷'"}],
          "mark": {"type": "line", "color": "#00ff00", "strokeWidth": 1.2},
          "encoding": {
            "x": {"field": "r", "type": "quantitative", "scale": {"type": "log", "domain": [0.2, 180.7], "range": [155.7, 385.7], "nice": false}, "axis": null},
            "y": {"field": "n", "type": "quantitative", "scale": {"type": "log", "domain": [0.001, 0.088], "range": [440.3, 277], "nice": false}, "axis": null}
          }
        },
        {
          "data": {"name": "inset"},
          "transform": [{"filter": "false"}],
          "mark": {"type": "point", "filled": false, "strokeWidth": 1.2, "opacity": 1},
          "encoding": {
            "x": {"field": "r", "type": "quantitative", "scale": {"type": "log", "domain": [0.2, 180.7], "range": [155.7, 385.7], "nice": false}, "axis": null},
            "y": {"field": "n", "type": "quantitative", "scale": {"type": "log", "domain": [0.001, 0.088], "range": [440.3, 277], "nice": false}, "axis": null},
            "color": {"field": "s", "type": "nominal",
              "scale": {"domain": ["0.036 r⁻⁰·⁹", "0.0058 r⁻⁰·²⁷"], "range": ["#ff0000", "#00ff00"]},
              "legend": {"title": null, "orient": "none", "legendX": 280.3, "legendY": 287.7, "padding": 5, "labelFontSize": 12.5, "labelFontStyle": "italic", "labelOffset": 9, "symbolSize": 400, "rowPadding": 3, "symbolStrokeWidth": 1.2, "symbolOpacity": 1, "strokeColor": "black", "fillColor": "white"}},
            "shape": {"field": "s", "type": "nominal",
              "scale": {"domain": ["0.036 r⁻⁰·⁹", "0.0058 r⁻⁰·²⁷"],
                "range": ["M-1.08,0L-0.58,0M-0.28,0L0.22,0M0.52,0L1.02,0", "M-1.08,0L1.12,0"]},
              "legend": {"title": null, "orient": "none", "legendX": 280.3, "legendY": 287.7, "padding": 5, "labelFontSize": 12.5, "labelFontStyle": "italic", "labelOffset": 9, "symbolSize": 400, "rowPadding": 3, "symbolStrokeWidth": 1.2, "symbolOpacity": 1, "strokeColor": "black", "fillColor": "white"}}
          }
        }
      ],
      "resolve": {"scale": {"x": "shared", "y": "shared"}, "axis": {"x": "independent", "y": "independent"}}
    }
  ],
  "resolve": {
    "scale": {"x": "independent", "y": "independent", "color": "independent", "shape": "independent"},
    "axis": {"x": "independent", "y": "independent"},
    "legend": {"color": "independent", "shape": "independent"}
  }
}
